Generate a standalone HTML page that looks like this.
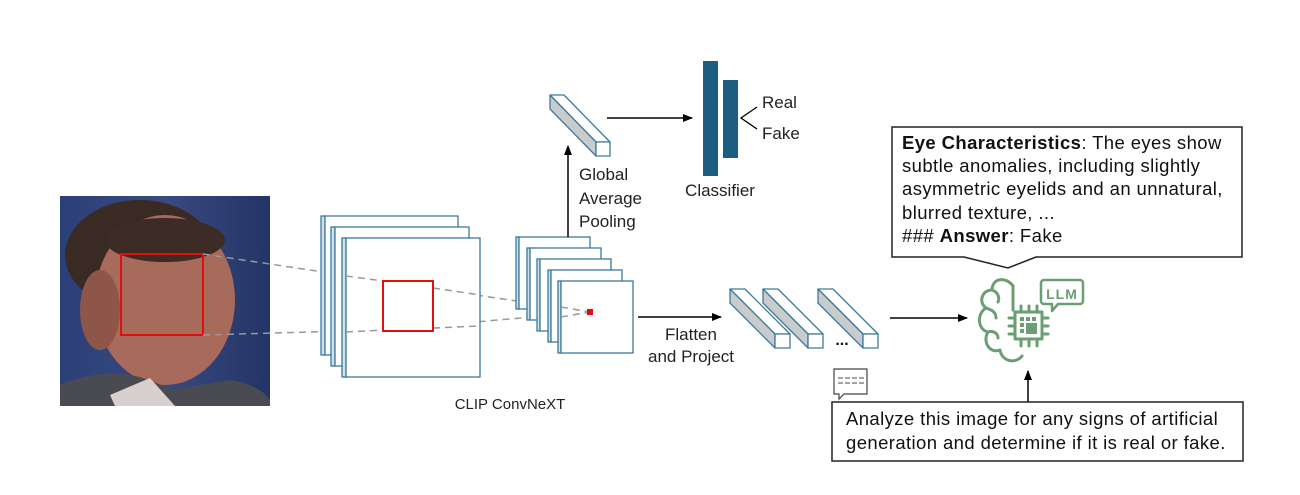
<!DOCTYPE html>
<html><head><meta charset="utf-8"><style>
html,body{margin:0;padding:0;background:#fff;}
svg{display:block;}
text{font-family:"Liberation Sans",sans-serif;}
</style></head><body>
<svg width="1300" height="495" viewBox="0 0 1300 495" xmlns="http://www.w3.org/2000/svg">
<defs>
<marker id="ah" markerWidth="10" markerHeight="8" refX="9" refY="4" orient="auto" markerUnits="userSpaceOnUse">
<path d="M0,0 L10,4 L0,8 Z" fill="#000"/></marker>
<linearGradient id="bg" x1="0" y1="0" x2="1" y2="0">
<stop offset="0" stop-color="#2b3f78"/><stop offset="0.5" stop-color="#3a4a80"/><stop offset="1" stop-color="#233466"/></linearGradient>
</defs>

<rect x="60" y="196" width="210" height="210" fill="url(#bg)"/>
<ellipse cx="140" cy="255" rx="75" ry="55" fill="#3a2a24"/>
<ellipse cx="165" cy="300" rx="70" ry="85" fill="#a86a5a"/>
<ellipse cx="100" cy="310" rx="20" ry="40" fill="#8e5648"/>
<ellipse cx="165" cy="240" rx="60" ry="22" fill="#3d2b25"/>
<path d="M60,385 Q120,360 170,390 L230,380 Q260,385 270,400 L270,406 L60,406Z" fill="#4a4a52"/>
<path d="M110,395 L150,378 L175,406 L115,406Z" fill="#d8cfcf"/>
<rect x="121" y="254" width="82" height="81" fill="none" stroke="#e01010" stroke-width="2"/>

<g stroke="#999" stroke-width="1.5" stroke-dasharray="7,5" fill="none">
<path d="M203,254 L383,281 L590,312"/>
<path d="M203,335 L383,330 L590,312"/>
</g>

<g stroke="#3c7a9a" stroke-width="1.3">
<rect x="321" y="216" width="4" height="139" fill="#cfe1ea"/><rect x="325" y="216" width="133" height="139" fill="#fff"/>
<rect x="331" y="227" width="4" height="139" fill="#cfe1ea"/><rect x="335" y="227" width="134" height="139" fill="#fff"/>
<rect x="342" y="238" width="4" height="139" fill="#cfe1ea"/><rect x="346" y="238" width="134" height="139" fill="#fff"/>
</g>
<path d="M346,276 L383,281 M433,288 L480,295 M346,332 L383,330 M433,328 L480,326" stroke="#999" stroke-width="1.5" stroke-dasharray="7,5"/>
<rect x="383" y="281" width="50" height="50" fill="none" stroke="#e01010" stroke-width="2"/>

<g stroke="#3c7a9a" stroke-width="1.3">
<rect x="516" y="237" width="3" height="72" fill="#cfe1ea"/><rect x="519" y="237" width="71" height="72" fill="#fff"/>
<rect x="527" y="248" width="3" height="72" fill="#cfe1ea"/><rect x="530" y="248" width="71" height="72" fill="#fff"/>
<rect x="537" y="259" width="3" height="72" fill="#cfe1ea"/><rect x="540" y="259" width="71" height="72" fill="#fff"/>
<rect x="548" y="270" width="3" height="72" fill="#cfe1ea"/><rect x="551" y="270" width="71" height="72" fill="#fff"/>
<rect x="558" y="281" width="3" height="72" fill="#cfe1ea"/><rect x="561" y="281" width="72" height="72" fill="#fff"/>
</g>
<path d="M561,307 L590,312 M561,317 L590,312" stroke="#999" stroke-width="1.5" stroke-dasharray="7,5"/>
<rect x="587" y="309" width="6" height="6" fill="#e01010"/>

<text x="510" y="409" font-size="15" text-anchor="middle" fill="#222">CLIP ConvNeXT</text>

<line x1="568" y1="237" x2="568" y2="146" stroke="#000" stroke-width="1.5" marker-end="url(#ah)"/>
<text font-size="17" fill="#222"><tspan x="579" y="180">Global</tspan><tspan x="579" y="204">Average</tspan><tspan x="579" y="227">Pooling</tspan></text>

<g stroke="#3c7a9a" stroke-width="1.3" stroke-linejoin="round">
<polygon points="596,142 610,142 564,95 550,95" fill="#fff"/>
<polygon points="596,142 596,156 550,109 550,95" fill="#c9cccd"/>
<rect x="596" y="142" width="14" height="14" fill="#fff"/>
</g>
<line x1="607" y1="118" x2="692" y2="118" stroke="#000" stroke-width="1.5" marker-end="url(#ah)"/>

<rect x="703" y="61" width="15" height="115" fill="#1b5e7f"/>
<rect x="723" y="80" width="15" height="78" fill="#1b5e7f"/>
<path d="M757,107 L741,118 L757,129" fill="none" stroke="#000" stroke-width="1.3"/>
<text x="762" y="108" font-size="17" fill="#222">Real</text>
<text x="762" y="139" font-size="17" fill="#222">Fake</text>
<text x="720" y="196" font-size="17" fill="#222" text-anchor="middle">Classifier</text>

<line x1="638" y1="317" x2="721" y2="317" stroke="#000" stroke-width="1.5" marker-end="url(#ah)"/>
<text font-size="17" fill="#222" text-anchor="middle"><tspan x="691" y="340">Flatten</tspan><tspan x="691" y="362">and Project</tspan></text>

<g stroke="#3c7a9a" stroke-width="1.3" stroke-linejoin="round">
<polygon points="775,334 790,334 745,289 730,289" fill="#fff"/>
<polygon points="775,334 775,348 730,303 730,289" fill="#c9cccd"/>
<rect x="775" y="334" width="15" height="14" fill="#fff"/>
<polygon points="808,334 823,334 778,289 763,289" fill="#fff"/>
<polygon points="808,334 808,348 763,303 763,289" fill="#c9cccd"/>
<rect x="808" y="334" width="15" height="14" fill="#fff"/>
<polygon points="863,334 878,334 833,289 818,289" fill="#fff"/>
<polygon points="863,334 863,348 818,303 818,289" fill="#c9cccd"/>
<rect x="863" y="334" width="15" height="14" fill="#fff"/>
</g>
<text x="842" y="345" font-size="16" font-weight="bold" text-anchor="middle" fill="#111">...</text>

<path d="M834,369 h33 v25 h-23 l-5,5 v-5 h-5 z" fill="#fff" stroke="#444" stroke-width="1.2"/>
<path d="M838,378 h26 M838,383 h26" stroke="#444" stroke-width="1" stroke-dasharray="5,2"/>

<line x1="890" y1="318" x2="967" y2="318" stroke="#000" stroke-width="1.5" marker-end="url(#ah)"/>

<g fill="none" stroke="#6a9e73" stroke-width="3" stroke-linecap="round" stroke-linejoin="round">
<path d="M1013,286 C1006,276 992,278 992,290 C982,290 978,302 986,308 C976,314 978,330 988,332 C982,342 990,354 1000,350 C1002,362 1016,364 1022,356"/>
<path d="M992,290 C998,292 1000,298 998,302 M986,308 C992,310 996,312 996,318 M988,332 C994,330 998,334 998,338"/>
<path d="M1013,286 L1013,310"/>
<rect x="1015" y="312" width="27" height="27"/>
<path d="M1021,306v6 M1029,306v6 M1037,306v6 M1021,339v7 M1029,339v7 M1037,339v7 M1009,318h6 M1009,326h6 M1009,334h6 M1042,318h6 M1042,326h6 M1042,334h6"/>
<path d="M1044,280 h36 a3,3 0 0 1 3,3 v18 a3,3 0 0 1 -3,3 h-22 l-6,7 v-7 h-8 a3,3 0 0 1 -3,-3 v-18 a3,3 0 0 1 3,-3z" stroke-width="2.5"/>
</g>
<rect x="1020" y="317" width="4" height="4" fill="#6a9e73"/><rect x="1026" y="317" width="4" height="4" fill="#6a9e73"/><rect x="1032" y="317" width="4" height="4" fill="#6a9e73"/>
<rect x="1020" y="323" width="4" height="4" fill="#6a9e73"/><rect x="1020" y="329" width="4" height="4" fill="#6a9e73"/>
<rect x="1026" y="323" width="11" height="11" fill="#6a9e73"/>
<text x="1062" y="299" font-size="14" font-weight="bold" fill="#6a9e73" text-anchor="middle" letter-spacing="1">LLM</text>

<path d="M892,127 H1242 V257 H1036 L1008,268 L964,257 H892 Z" fill="#fff" stroke="#222" stroke-width="1.5"/>
<g font-size="18.5" fill="#111" letter-spacing="0.4">
<text x="902" y="149"><tspan font-weight="bold">Eye Characteristics</tspan>: The eyes show</text>
<text x="902" y="172">subtle anomalies, including slightly</text>
<text x="902" y="195">asymmetric eyelids and an unnatural,</text>
<text x="902" y="219">blurred texture, ...</text>
<text x="902" y="242">### <tspan font-weight="bold">Answer</tspan>: Fake</text>
</g>

<line x1="1028" y1="402" x2="1028" y2="371" stroke="#000" stroke-width="1.5" marker-end="url(#ah)"/>
<rect x="832" y="402" width="411" height="59" fill="#fff" stroke="#222" stroke-width="1.5"/>
<g font-size="18.5" fill="#111" letter-spacing="0.4">
<text x="846" y="425">Analyze this image for any signs of artificial</text>
<text x="846" y="449">generation and determine if it is real or fake.</text>
</g>
</svg>
</body></html>
